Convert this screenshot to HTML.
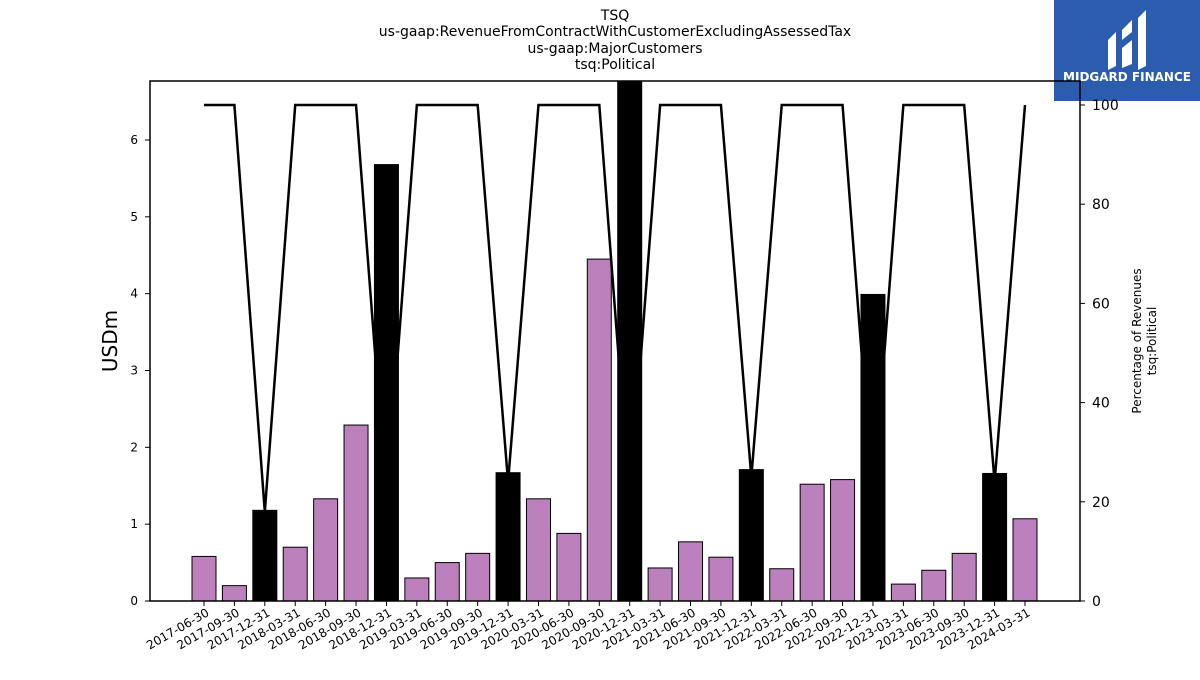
<!DOCTYPE html>
<html><head><meta charset="utf-8"><style>
body{margin:0;background:#fff;font-family:"Liberation Sans","DejaVu Sans",sans-serif}
svg text{font-family:"DejaVu Sans","Liberation Sans",sans-serif}
</style></head><body>
<svg id="c" width="1200" height="675" xmlns="http://www.w3.org/2000/svg">
<g font-size="14" text-anchor="middle" fill="#000">
<text x="615" y="20">TSQ</text>
<text x="615" y="36">us-gaap:RevenueFromContractWithCustomerExcludingAssessedTax</text>
<text x="615" y="53">us-gaap:MajorCustomers</text>
<text x="615" y="69">tsq:Political</text>
</g>
<g>
<rect x="1054" y="0" width="146" height="101" fill="#2b5cad"/>
<path d="M1108 40 l8 -8 v34 l-8 4z M1122 30 l10 -10 v12 l-10 8z M1122 48 l10 -8 v24 l-10 4z M1138 18 l8 -8 v56 l-8 4z" fill="#fff"/>
<text x="1127" y="81" font-size="12" font-weight="bold" fill="#fff" text-anchor="middle">MIDGARD FINANCE</text>
</g>
<g id="bars"></g>
<g id="line"></g>
<g id="axes"></g>
</svg>
<script>
const categories=["2017-06-30","2017-09-30","2017-12-31","2018-03-31","2018-06-30","2018-09-30","2018-12-31","2019-03-31","2019-06-30","2019-09-30","2019-12-31","2020-03-31","2020-06-30","2020-09-30","2020-12-31","2021-03-31","2021-06-30","2021-09-30","2021-12-31","2022-03-31","2022-06-30","2022-09-30","2022-12-31","2023-03-31","2023-06-30","2023-09-30","2023-12-31","2024-03-31"];
const revenue=[0.58,0.2,1.18,0.7,1.33,2.29,5.68,0.3,0.5,0.62,1.67,1.33,0.88,4.45,6.9,0.43,0.77,0.57,1.71,0.42,1.52,1.58,3.99,0.22,0.4,0.62,1.66,1.07];
const annual=[false,false,true,false,false,false,true,false,false,false,true,false,false,false,true,false,false,false,true,false,false,false,true,false,false,false,true,false];
const percent=[100,100,18,100,100,100,20,100,100,100,24,100,100,100,20,100,100,100,25,100,100,100,20,100,100,100,24,100];
const leftTicks=[0,1,2,3,4,5,6];
const rightTicks=[0,20,40,60,80,100];
const NS="http://www.w3.org/2000/svg";
const L=150,R=1080,T=81,B=601;
const x=i=>204+i*(1025-204)/(categories.length-1);
const y=v=>B-v*(B-140)/6;
const y2=v=>B-v*(B-105)/100;
function mk(tag,attrs,parent){const e=document.createElementNS(NS,tag);for(const k in attrs)e.setAttribute(k,attrs[k]);parent.appendChild(e);return e;}
const bars=document.getElementById('bars'),line=document.getElementById('line'),axes=document.getElementById('axes');
const clip=mk('clipPath',{id:'pc'},document.getElementById('c'));mk('rect',{x:L,y:T,width:R-L,height:B-T},clip);
bars.setAttribute('clip-path','url(#pc)');
revenue.forEach((v,i)=>{
 const r=mk('rect',{x:x(i)-12,y:y(v),width:24,height:B-y(v),fill:annual[i]?'#000':'#bc80bd',stroke:'#000','stroke-width':1},bars);
 
 
});
const p=mk('polyline',{points:percent.map((v,i)=>x(i)+','+y2(v)).join(' '),fill:'none',stroke:'#000','stroke-width':2.5},line);


const fr=mk('rect',{x:L,y:T,width:R-L,height:B-T,fill:'none',stroke:'#000','stroke-width':1.5},axes);


leftTicks.forEach(t=>{
 mk('line',{x1:L-5,x2:L,y1:y(t),y2:y(t),stroke:'#000'},axes);
 const tx=mk('text',{x:L-12,y:y(t)+4,'font-size':12,'text-anchor':'end'},axes);tx.textContent=t;
 
 
});
rightTicks.forEach(t=>{
 mk('line',{x1:R,x2:R+5,y1:y2(t),y2:y2(t),stroke:'#000'},axes);
 const tx=mk('text',{x:R+12,y:y2(t)+5,'font-size':14},axes);tx.textContent=t;
 
 
});
categories.forEach((c,i)=>{
 mk('line',{x1:x(i),x2:x(i),y1:B,y2:B+5,stroke:'#000'},axes);
 const tx=mk('text',{x:x(i)+6,y:B+14,'font-size':12,'text-anchor':'end',transform:`rotate(-30 ${x(i)+6} ${B+14})`},axes);tx.textContent=c;
 
 
});
const yl=mk('text',{x:117,y:341,'font-size':20,'text-anchor':'middle',transform:'rotate(-90 117 341)'},axes);yl.textContent='USDm';


const r1=mk('text',{x:1141,y:341,'font-size':12,'text-anchor':'middle',transform:'rotate(-90 1141 341)'},axes);r1.textContent='Percentage of Revenues';


const r2=mk('text',{x:1156,y:341,'font-size':12,'text-anchor':'middle',transform:'rotate(-90 1156 341)'},axes);r2.textContent='tsq:Political';


</script>
</body></html>
